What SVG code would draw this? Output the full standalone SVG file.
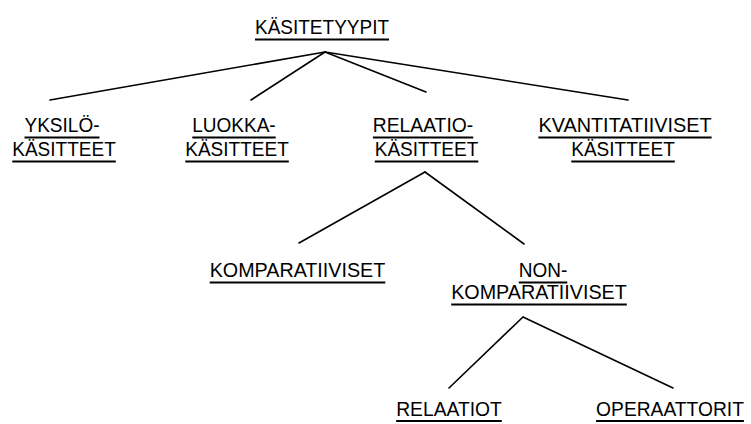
<svg xmlns="http://www.w3.org/2000/svg" width="751" height="424" viewBox="0 0 751 424">
  <style>
    .lbl { font-family: "Liberation Sans", Arial, sans-serif; font-size: 20.5px; fill: #000; text-anchor: middle; }
    .ul { stroke: #000; stroke-width: 1.8; }
    .edge { stroke: #000; stroke-width: 1.6; fill: none; stroke-linecap: round; }
  </style>
  <rect width="751" height="424" fill="#fff"/>

  <!-- tree branches -->
  <g id="connectors">
    <line class="edge" x1="325" y1="52" x2="50" y2="100"/>
    <line class="edge" x1="325" y1="52" x2="251" y2="100"/>
    <line class="edge" x1="325" y1="52" x2="426" y2="92"/>
    <line class="edge" x1="325" y1="52" x2="628" y2="100"/>
    <line class="edge" x1="425" y1="172" x2="299" y2="243"/>
    <line class="edge" x1="425" y1="172" x2="524" y2="244"/>
    <line class="edge" x1="523" y1="317" x2="449" y2="388"/>
    <line class="edge" x1="523" y1="317" x2="673" y2="388"/>
  </g>

  <!-- labels: slightly condensed type, each with a drawn underline -->
  <g id="kasitetyypit">
    <text class="lbl" x="322" y="34" textLength="134" lengthAdjust="spacingAndGlyphs">KÄSITETYYPIT</text>
    <line class="ul" x1="255" y1="39.5" x2="389" y2="39.5"/>
  </g>

  <g id="yksilokasitteet">
    <text class="lbl" x="62" y="132" textLength="75" lengthAdjust="spacingAndGlyphs">YKSILÖ-</text>
    <line class="ul" x1="24.5" y1="137.5" x2="99.5" y2="137.5"/>
    <text class="lbl" x="64" y="155.5" textLength="103.5" lengthAdjust="spacingAndGlyphs">KÄSITTEET</text>
    <line class="ul" x1="12.3" y1="161.5" x2="115.8" y2="161.5"/>
  </g>

  <g id="luokkakasitteet">
    <text class="lbl" x="234" y="132" textLength="83.4" lengthAdjust="spacingAndGlyphs">LUOKKA-</text>
    <line class="ul" x1="192.3" y1="137.5" x2="275.7" y2="137.5"/>
    <text class="lbl" x="237" y="155.5" textLength="103.5" lengthAdjust="spacingAndGlyphs">KÄSITTEET</text>
    <line class="ul" x1="185.3" y1="161.5" x2="288.8" y2="161.5"/>
  </g>

  <g id="relaatiokasitteet">
    <text class="lbl" x="423" y="132" textLength="100.3" lengthAdjust="spacingAndGlyphs">RELAATIO-</text>
    <line class="ul" x1="372.9" y1="137.5" x2="473.2" y2="137.5"/>
    <text class="lbl" x="426.5" y="155.5" textLength="103.5" lengthAdjust="spacingAndGlyphs">KÄSITTEET</text>
    <line class="ul" x1="374.8" y1="161.5" x2="478.3" y2="161.5"/>
  </g>

  <g id="kvantitatiiviset">
    <text class="lbl" x="625" y="132" textLength="173.2" lengthAdjust="spacingAndGlyphs">KVANTITATIIVISET</text>
    <line class="ul" x1="538.4" y1="137.5" x2="711.6" y2="137.5"/>
    <text class="lbl" x="623" y="155.5" textLength="103.5" lengthAdjust="spacingAndGlyphs">KÄSITTEET</text>
    <line class="ul" x1="571.3" y1="161.5" x2="674.8" y2="161.5"/>
  </g>

  <g id="komparatiiviset">
    <text class="lbl" x="297.5" y="277" textLength="175.6" lengthAdjust="spacingAndGlyphs">KOMPARATIIVISET</text>
    <line class="ul" x1="209.7" y1="282.5" x2="385.3" y2="282.5"/>
  </g>

  <g id="nonkomparatiiviset">
    <text class="lbl" x="543" y="277" textLength="48.5" lengthAdjust="spacingAndGlyphs">NON-</text>
    <line class="ul" x1="518.8" y1="282.5" x2="567.3" y2="282.5"/>
    <text class="lbl" x="539" y="299" textLength="175.6" lengthAdjust="spacingAndGlyphs">KOMPARATIIVISET</text>
    <line class="ul" x1="451.2" y1="304.5" x2="626.8" y2="304.5"/>
  </g>

  <g id="relaatiot">
    <text class="lbl" x="449" y="416" textLength="105.6" lengthAdjust="spacingAndGlyphs">RELAATIOT</text>
    <line class="ul" x1="396.2" y1="421" x2="501.8" y2="421"/>
  </g>

  <g id="operaattorit">
    <text class="lbl" x="670" y="416" textLength="147.8" lengthAdjust="spacingAndGlyphs">OPERAATTORIT</text>
    <line class="ul" x1="596.1" y1="421" x2="743.9" y2="421"/>
  </g>
</svg>
